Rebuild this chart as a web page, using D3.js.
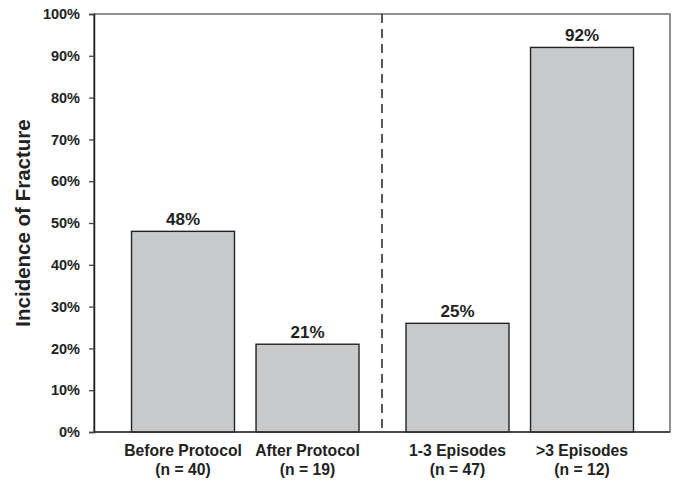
<!DOCTYPE html>
<html>
<head>
<meta charset="utf-8">
<script src="https://cdn.jsdelivr.net/npm/d3@7"></script>
<style>
  body { margin: 0; background: #fff; }
  text { font-family: "Liberation Sans", Arial, sans-serif; font-weight: bold; fill: #222; }
</style>
</head>
<body>
<script>
// data
var groupA = ["Before Protocol", "After Protocol"];
var groupB = ["1-3 Episodes", ">3 Episodes"];
var sampleSizes = ["(n = 40)", "(n = 19)", "(n = 47)", "(n = 12)"];
var values = [48, 21, 26, 92];
var valueLabels = ["48%", "21%", "25%", "92%"];
var yTicks = [0, 10, 20, 30, 40, 50, 60, 70, 80, 90, 100];

var width = 675;
var height = 481;
var plotLeft = 94, plotRight = 670, plotTop = 14, plotBottom = 432;
var mid = (plotLeft + plotRight) / 2;

var svg = d3.select("body")
  .append("svg")
    .attr("width", width)
    .attr("height", height);

var y = d3.scaleLinear()
  .domain([0, 100])
  .range([plotBottom, plotTop]);

// two halves, mirrored padding
var xA = d3.scaleBand().domain(groupA).range([plotLeft, mid])
  .paddingInner(0.173).paddingOuter(0.243).align(0.62);
var xB = d3.scaleBand().domain(groupB).range([mid, plotRight])
  .paddingInner(0.173).paddingOuter(0.243).align(0.397);

var categories = groupA.concat(groupB);
var xPos = function(c) { return groupA.indexOf(c) >= 0 ? xA(c) : xB(c); };
var bw = xA.bandwidth();

var data = categories.map(function(c, i) {
  return { name: c, n: sampleSizes[i], value: values[i], label: valueLabels[i] };
});

// frame
svg.append("rect")
  .attr("x", plotLeft)
  .attr("y", plotTop)
  .attr("width", plotRight - plotLeft)
  .attr("height", plotBottom - plotTop)
  .attr("fill", "none")
  .attr("stroke", "#555")
  .attr("stroke-width", 1.3);

// divider
svg.append("line")
  .attr("x1", mid).attr("x2", mid)
  .attr("y1", plotTop).attr("y2", plotBottom)
  .attr("stroke", "#222")
  .attr("stroke-width", 1.5)
  .attr("stroke-dasharray", "9,6");

// bars
svg.selectAll(".bar")
  .data(data)
  .enter()
  .append("rect")
    .classed("bar", true)
    .attr("x", function(d) { return xPos(d.name); })
    .attr("y", function(d) { return y(d.value); })
    .attr("width", bw)
    .attr("height", function(d) { return y(0) - y(d.value); })
    .attr("fill", "#c8c9cb")
    .attr("stroke", "#222")
    .attr("stroke-width", 1.4);

svg.selectAll(".vlabel")
  .data(data)
  .enter()
  .append("text")
    .classed("vlabel", true)
    .attr("x", function(d) { return xPos(d.name) + bw / 2; })
    .attr("y", function(d) { return y(d.value) - 6; })
    .attr("text-anchor", "middle")
    .style("font-size", "17px")
    .text(function(d) { return d.label; });

// y axis
var yAxis = svg.append("g")
  .attr("transform", "translate(" + plotLeft + ",0)")
  .call(d3.axisLeft(y)
    .tickValues(yTicks)
    .tickSize(5)
    .tickFormat(function(d) { return d + "%"; }));

yAxis.select(".domain").attr("stroke", "#222").attr("stroke-width", 1.5);
yAxis.selectAll(".tick line").attr("stroke", "#444").attr("stroke-width", 1.3);
yAxis.selectAll(".tick text")
  .attr("x", -14)
  .style("font-size", "14.5px")
  .style("font-family", "'Liberation Sans', Arial, sans-serif")
  .attr("fill", "#222");

// bottom line
svg.append("line")
  .attr("x1", plotLeft).attr("x2", plotRight)
  .attr("y1", plotBottom).attr("y2", plotBottom)
  .attr("stroke", "#333")
  .attr("stroke-width", 1.5);

// category labels
var cat = svg.selectAll(".cat")
  .data(data)
  .enter()
  .append("text")
    .classed("cat", true)
    .attr("text-anchor", "middle")
    .attr("transform", function(d) { return "translate(" + (xPos(d.name) + bw / 2) + ",0)"; })
    .style("font-size", "15.7px");

cat.append("tspan").attr("x", 0).attr("y", 456).text(function(d) { return d.name; });
cat.append("tspan").attr("x", 0).attr("y", 475).text(function(d) { return d.n; });

// y title
svg.append("text")
  .attr("transform", "translate(30," + ((plotTop + plotBottom) / 2) + ") rotate(-90)")
  .attr("text-anchor", "middle")
  .style("font-size", "20.5px")
  .text("Incidence of Fracture");
</script>
</body>
</html>
